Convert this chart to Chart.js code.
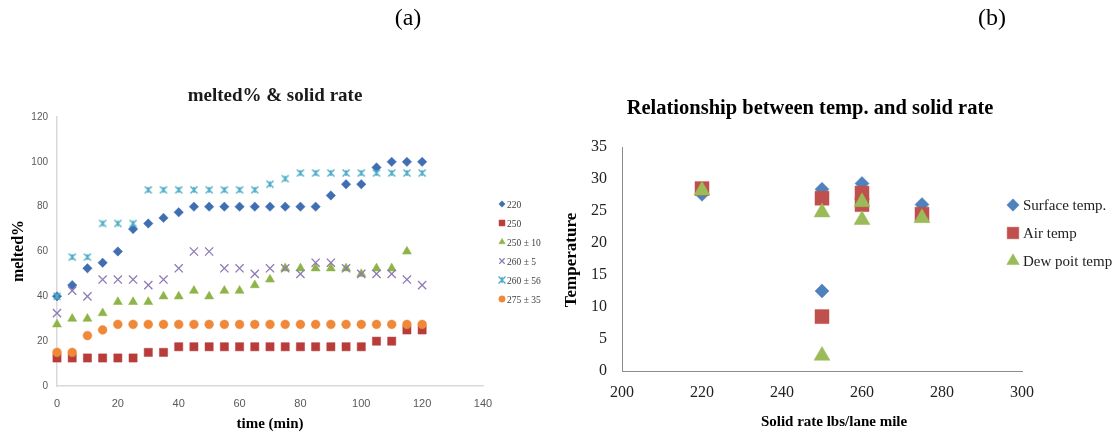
<!DOCTYPE html>
<html><head><meta charset="utf-8">
<script src="https://cdn.jsdelivr.net/npm/chart.js@4/dist/chart.umd.min.js"></script>
<style>
html,body{margin:0;padding:0;background:#fff;}
body{width:1117px;height:436px;position:relative;overflow:hidden;}
.box{position:absolute;top:0;height:436px;}
#b1{left:0;width:560px;}
#b2{left:560px;width:557px;}
canvas{display:block;}
</style></head><body>
<div class="box" id="b1"><canvas id="c1" width="560" height="436"></canvas></div>
<div class="box" id="b2"><canvas id="c2" width="557" height="436"></canvas></div>
<script>
// ---- melted% over time, one series per application rate ----
const times = [0,5,10,15,20,25,30,35,40,45,50,55,60,65,70,75,80,85,90,95,100,105,110,115,120];
const rate220    = [40,45,52.5,55,60,70,72.5,75,77.5,80,80,80,80,80,80,80,80,80,85,90,90,97.5,100,100,100];
const rate250    = [12.5,12.5,12.5,12.5,12.5,12.5,15,15,17.5,17.5,17.5,17.5,17.5,17.5,17.5,17.5,17.5,17.5,17.5,17.5,17.5,20,20,25,25];
const rate250p10 = [27.5,30,30,32.5,37.5,37.5,37.5,40,40,42.5,40,42.5,42.5,45,47.5,52.5,52.5,52.5,52.5,52.5,50,52.5,52.5,60,null];
const rate260p5  = [32.5,42.5,40,47.5,47.5,47.5,45,47.5,52.5,60,60,52.5,52.5,50,52.5,52.5,50,55,55,52.5,50,50,50,47.5,45];
const rate260p56 = [40,57.5,57.5,72.5,72.5,72.5,87.5,87.5,87.5,87.5,87.5,87.5,87.5,87.5,90,92.5,95,95,95,95,95,95,95,95,95];
const rate275p35 = [15,15,22.5,25,27.5,27.5,27.5,27.5,27.5,27.5,27.5,27.5,27.5,27.5,27.5,27.5,27.5,27.5,27.5,27.5,27.5,27.5,27.5,27.5,27.5];
const meltLabels = ['220','250','250 \u00b1 10','260 \u00b1 5','260 \u00b1 56','275 \u00b1 35'];
const meltTicksX = [0,20,40,60,80,100,120,140];
const meltTicksY = [0,20,40,60,80,100,120];

// ---- temperatures against solid rate ----
const solidRate   = [220,250,250,260,260,275];
const surfaceTemp = [27.6,28.4,12.5,29.3,27,26];
const airTemp     = [28.5,27,8.5,27.8,26,24.5];
const dewTemp     = [28.2,24.8,2.4,26.4,23.6,23.9];
const tempLabels  = ['Surface temp.','Air temp','Dew poit temp'];
const tempTicksX  = [200,220,240,260,280,300];
const tempTicksY  = [0,5,10,15,20,25,30,35];

const SERIF = '"Liberation Serif","DejaVu Serif",serif';
const SANS = '"Liberation Sans","DejaVu Sans",sans-serif';

// Star marker: an X crossed by a vertical stroke
function starMarker(color, size){
  const c = document.createElement('canvas');
  c.width = size; c.height = size;
  const g = c.getContext('2d');
  g.strokeStyle = color; g.lineWidth = 1.4;
  const m = 1.5, s = size - 1.5;
  g.beginPath();
  g.moveTo(m,m); g.lineTo(s,s);
  g.moveTo(s,m); g.lineTo(m,s);
  g.moveTo(size/2,m+0.5); g.lineTo(size/2,s-0.5);
  g.stroke();
  return c;
}

function pts(xs, ys){
  const out = [];
  for (let i=0;i<xs.length;i++) if (ys[i] !== null) out.push({x:xs[i], y:ys[i]});
  return out;
}

// Text and legend overlay drawn after the chart
function overlay(cfg){
  return {
    id:'overlay',
    afterDraw(chart){
      const ctx = chart.ctx;
      ctx.save();
      for (const t of cfg.texts){
        ctx.font = t.font; ctx.fillStyle = t.color || '#000';
        ctx.textAlign = 'center'; ctx.textBaseline = 'middle';
        if (t.rot){
          ctx.save(); ctx.translate(t.x, t.y); ctx.rotate(-Math.PI/2);
          ctx.fillText(t.text, 0, 0); ctx.restore();
        } else ctx.fillText(t.text, t.x, t.y);
      }
      const L = cfg.legend;
      chart.data.datasets.forEach((ds, i) => {
        const y = L.y + i*L.dy;
        ctx.fillStyle = ds.backgroundColor; ctx.strokeStyle = ds.borderColor;
        ctx.lineWidth = ds.pointBorderWidth || 1;
        Chart.helpers.drawPoint(ctx, {
          pointStyle: ds.pointStyle, radius: L.radius[i], rotation: 0,
          borderWidth: ds.pointBorderWidth || 1
        }, L.mx, y);
        ctx.font = L.font; ctx.fillStyle = L.color;
        ctx.textAlign = 'left'; ctx.textBaseline = 'middle';
        ctx.fillText(ds.label, L.tx, y + 1);
      });
      ctx.restore();
    }
  };
}

function fixedAxis(size, horizontal){
  return function(scale){ if (horizontal) scale.height = size; else scale.width = size; };
}

// ---------- chart (a) ----------
const c1Colors = ['#3F6FB2','#B83D3A','#8DB446','#8E7AB5','#4BACC6','#F0883A'];
const c1Styles = ['rectRot','rect','triangle','crossRot', starMarker('#4BACC6', 10),'circle'];
const c1Radius = [4.7,5.8,5.2,5.8,5,4.4];
const c1Series = [rate220,rate250,rate250p10,rate260p5,rate260p56,rate275p35];

new Chart(document.getElementById('c1'), {
  type:'scatter',
  data:{ datasets: c1Series.map((s,i)=>({
    label: meltLabels[i],
    data: pts(times, s),
    pointStyle: c1Styles[i],
    pointRadius: c1Radius[i],
    pointHoverRadius: c1Radius[i],
    backgroundColor: c1Colors[i],
    borderColor: c1Colors[i],
    pointBorderWidth: i===3 ? 1.3 : 0.5,
    clip: false,
    order: c1Series.length - 1 - i
  }))},
  options:{
    responsive:false, animation:false, events:[],
    layout:{ padding:{ left:0, top:117, right:77, bottom:0 } },
    plugins:{ legend:{display:false}, tooltip:{enabled:false}, title:{display:false} },
    scales:{
      x:{ type:'linear', min:0, max:140, afterFit: fixedAxis(50, true),
          afterBuildTicks: s => { s.ticks = meltTicksX.map(v=>({value:v})); },
          grid:{display:false, drawTicks:false},
          border:{display:true, color:'#D9D9D9', width:1.5},
          ticks:{ padding:11, color:'#595959', font:{family:SANS, size:11} } },
      y:{ min:0, max:120, afterFit: fixedAxis(57, false),
          afterBuildTicks: s => { s.ticks = meltTicksY.map(v=>({value:v})); },
          grid:{display:false, drawTicks:false},
          border:{display:true, color:'#D9D9D9', width:1.5},
          ticks:{ padding:9, color:'#595959', font:{family:SANS, size:10} } }
    }
  },
  plugins:[ overlay({
    texts:[
      {text:'(a)', x:408, y:19, font:'24px '+SERIF},
      {text:'melted% & solid rate', x:275, y:96, font:'bold 19px '+SERIF, color:'#1a1a1a'},
      {text:'melted%', x:19, y:251, rot:true, font:'bold 16px '+SERIF},
      {text:'time (min)', x:270, y:424, font:'bold 15px '+SERIF}
    ],
    legend:{ mx:502, tx:507, y:204, dy:19, radius:[3.2,4.2,3.6,3.8,3,3.2],
             font:'9.5px '+SERIF, color:'#404040' }
  }) ]
});

// ---------- chart (b) ----------
const c2Colors = ['#4F81BD','#C0504D','#9BBB59'];
const c2Styles = ['rectRot','rect','triangle'];
const c2Radius = [7,9.9,9.2];
const c2Series = [surfaceTemp, airTemp, dewTemp];

new Chart(document.getElementById('c2'), {
  type:'scatter',
  data:{ datasets: c2Series.map((s,i)=>({
    label: tempLabels[i],
    data: pts(solidRate, s),
    pointStyle: c2Styles[i],
    pointRadius: c2Radius[i],
    pointHoverRadius: c2Radius[i],
    backgroundColor: c2Colors[i],
    borderColor: c2Colors[i],
    pointBorderWidth: 0.5,
    clip: false,
    order: c2Series.length - 1 - i
  }))},
  options:{
    responsive:false, animation:false, events:[],
    layout:{ padding:{ left:0, top:147, right:95, bottom:0 } },
    plugins:{ legend:{display:false}, tooltip:{enabled:false}, title:{display:false} },
    scales:{
      x:{ type:'linear', min:200, max:300, afterFit: fixedAxis(65, true),
          afterBuildTicks: s => { s.ticks = tempTicksX.map(v=>({value:v})); },
          grid:{display:false, drawTicks:false},
          border:{display:true, color:'#8C8C8C', width:1},
          ticks:{ padding:12, color:'#222', font:{family:SERIF, size:16} } },
      y:{ min:0, max:35, afterFit: fixedAxis(62, false),
          afterBuildTicks: s => { s.ticks = tempTicksY.map(v=>({value:v})); },
          grid:{display:false, drawTicks:false},
          border:{display:true, color:'#8C8C8C', width:1},
          ticks:{ padding:15, color:'#222', font:{family:SERIF, size:16} } }
    }
  },
  plugins:[ overlay({
    texts:[
      {text:'(b)', x:432, y:19, font:'24px '+SERIF},
      {text:'Relationship between temp. and solid rate', x:250, y:109, font:'bold 20.5px '+SERIF},
      {text:'Temperature', x:12, y:260, rot:true, font:'bold 17px '+SERIF},
      {text:'Solid rate lbs/lane mile', x:274, y:422, font:'bold 15px '+SERIF}
    ],
    legend:{ mx:453, tx:463, y:205, dy:28, radius:[6.2,8.2,7.2],
             font:'15px '+SERIF, color:'#222' }
  }) ]
});
</script>
</body></html>
